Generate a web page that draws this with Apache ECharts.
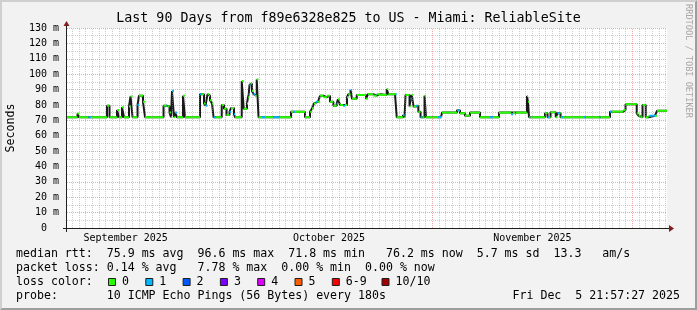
<!DOCTYPE html>
<html>
<head>
<meta charset="utf-8">
<script src="https://cdn.jsdelivr.net/npm/echarts@6.0.0/dist/echarts.min.js"></script>
<style>
html,body{margin:0;padding:0;background:#f2f2f2;overflow:hidden}
#chart{width:697px;height:310px}
</style>
</head>
<body>
<div id="chart"></div>
<script>
// ---------------- data ----------------
const titleText = 'Last 90 Days from f89e6328e825 to US - Miami: ReliableSite';
const yAxisName = 'Seconds';

// days since 2025-09-01 00:00 (step start), median RTT (ms), lost pings of 10
const sampleDay = [6.2,7.78,8.0,9.43,9.8,12.2,12.58,13.7,14.0,14.45,14.75,15.5,15.73,16.03,16.78,17.0,17.6,17.9,
  20.68,21.13,21.28,21.58,21.8,21.95,22.25,22.4,22.7,23.6,23.9,26.15,26.45,26.75,26.98,27.28,27.5,27.65,27.95,28.18,28.55,
  29.41,29.75,30.13,30.58,30.8,31.25,31.4,32.41,32.71,33.2,33.35,33.46,33.58,33.73,33.95,34.18,34.4,34.66,34.93,35.45,35.9,
  37.1,38.15,39.8,40.1,40.4,41.9,42.65,42.95,43.25,43.55,43.85,44.15,44.65,45.2,45.65,46.15,46.66,46.85,47.15,47.6,47.9,
  48.2,48.4,48.73,48.95,49.66,51.05,51.35,52.15,52.66,52.85,53.15,54.16,54.4,55.4,55.66,56.6,56.83,56.98,57.58,57.73,57.91,
  58.18,58.55,58.78,58.9,59.23,59.53,59.83,60.05,61.85,62.3,62.45,64.7,65.15,65.9,66.65,68.15,69.65,70.1,71.0,72.8,73.1,
  73.4,73.55,75.2,75.35,75.5,75.73,77.9,78.28,78.5,78.73,79.51,79.78,80.08,80.23,80.45,80.6,83.75,83.98,86.0,86.23,87.65,
  87.88,89.65,89.98,91.66,91.93,92.23,92.53,93.01,93.43,93.65,94.4,94.7];
const medianMs = [72,74.5,72,72,72,79.5,72,76.7,72,78.5,72,79,85.5,72,80,86,82,72,
  79.5,79.5,79,75,72,89,72,75,72,86,72,87,87,81,79.5,87,86,83,81,72,72,
  80,77.5,73.5,75.6,78,74,72,95.5,77.5,81,85,87,93,94,89,87,86,96.6,72,72,72,
  72,72,75.5,75.5,75.5,72,75.6,77.6,81,82,82,86,85,86,82,79.5,81,83.7,80,79.5,80,
  85,87,89.7,84,86.5,84,87,86,87,87,86.5,90.3,87,87,72,73.5,72,86.5,79,84,86.5,
  79,79.5,79.5,75.5,72,72,86,72,72,72,75,76.5,74.6,73,75,72,72,72,75,74,75,
  74,75,85.8,82,72,72,74.6,72,72,75.3,72,74.6,74.6,72,72,72,72,72,72,72,75.6,
  75.6,76.7,80.5,74.5,73,72,80,72,73,73,73,76.2];
const lossCount = [0,0,0,1,0,0,0,0,0,0,0,0,0,0,1,0,0,0,
  0,1,0,0,0,1,0,1,0,0,0,1,0,0,1,0,0,0,0,1,0,
  0,0,0,1,0,1,0,0,0,0,0,1,1,0,0,1,0,0,0,1,0,
  1,0,0,1,0,0,0,0,0,1,0,0,0,0,0,0,1,0,0,1,0,
  0,0,1,0,0,0,0,0,1,0,0,0,0,1,0,1,0,0,0,1,0,
  0,1,0,0,1,0,0,0,1,0,0,1,0,0,0,0,1,0,0,1,0,
  1,0,0,0,1,0,0,1,0,0,0,1,0,0,1,0,1,0,1,0,1,
  0,0,0,0,0,0,0,0,0,1,0,0];

const rangeStartDay = 6.2;
const rangeEndDay = 96.2;
const yMin = 0, yMax = 130, yStep = 10;
const monthStartDay = [30, 61, 91];
const monthLabelDay = [15, 45.5, 76];
const monthLabel = ['September 2025', 'October 2025', 'November 2025'];

const lossLabel = ['0', '1', '2', '3', '4', '5', '6-9', '10/10'];
const lossColor = ['#26ff00', '#00b8ff', '#0059ff', '#7e00ff', '#dd00ff', '#ff5e00', '#ff0000', '#a10000'];

const statLines = [
  'median rtt:  75.9 ms avg  96.6 ms max  71.8 ms min   76.2 ms now  5.7 ms sd  13.3   am/s',
  'packet loss: 0.14 % avg   7.78 % max  0.00 % min  0.00 % now'
];
const lossColorCaption = 'loss color:';
const probeLine = 'probe:       10 ICMP Echo Pings (56 Bytes) every 180s';
const timestampText = 'Fri Dec  5 21:57:27 2025';
const watermarkText = 'RRDTOOL / TOBI OETIKER';

// ---------------- styling / layout ----------------
const MONO = '"DejaVu Sans Mono", monospace';
const GRID = { left: 67, top: 28, width: 600, height: 200 };
const MINOR = 'rgba(150,150,150,0.45)';
const MAJOR = 'rgba(222,79,79,0.5)';
const AXIS = '#1f1f1f';
const ARROW = '#801f1f';

const stepData = sampleDay.map((d, i) => [d, medianMs[i]]);
stepData.push([rangeEndDay, medianMs[medianMs.length - 1]]);
const segData = sampleDay.map((d, i) => [d, medianMs[i], i < sampleDay.length - 1 ? sampleDay[i + 1] : rangeEndDay, lossCount[i]]);

// vertical grid: one line per day, red at month starts
const vGrid = [];
for (let d = Math.ceil(rangeStartDay); d <= Math.floor(rangeEndDay); d++) {
  const isMonth = monthStartDay.indexOf(d) >= 0;
  vGrid.push({ xAxis: d, lineStyle: { color: isMonth ? MAJOR : MINOR, type: [1, 1], width: 1 } });
}

function txt(x, y, text, size, opts) {
  opts = opts || {};
  return Object.assign({
    type: 'text', x: x, y: y, z: 50, silent: true,
    style: {
      text: text, font: size + 'px ' + MONO, fill: opts.fill || '#000',
      textAlign: opts.align || 'left', align: opts.align || 'left',
      textVerticalAlign: 'middle', verticalAlign: 'middle'
    }
  }, opts.extra || {});
}

const L = GRID.left, T = GRID.top, R = GRID.left + GRID.width, B = GRID.top + GRID.height;
const graphics = [
  // 3D frame
  { type: 'polygon', z: 1, silent: true, shape: { points: [[0, 310], [2, 308], [2, 2], [695, 2], [697, 0], [0, 0]] }, style: { fill: '#cfcfcf' } },
  { type: 'polygon', z: 1, silent: true, shape: { points: [[2, 308], [695, 308], [695, 2], [697, 0], [697, 310], [0, 310]] }, style: { fill: '#9e9e9e' } },
  // axes
  { type: 'line', z: 40, silent: true, shape: { x1: L - 4, y1: B + 0.5, x2: R + 4, y2: B + 0.5 }, style: { stroke: AXIS, lineWidth: 1 } },
  { type: 'line', z: 40, silent: true, shape: { x1: L - 0.5, y1: B + 4, x2: L - 0.5, y2: T - 4 }, style: { stroke: AXIS, lineWidth: 1 } },
  { type: 'polygon', z: 41, silent: true, shape: { points: [[R + 2, B - 3], [R + 2, B + 4], [R + 7, B + 0.5]] }, style: { fill: ARROW } },
  { type: 'polygon', z: 41, silent: true, shape: { points: [[L - 3.5, T - 2], [L + 2.5, T - 2], [L - 0.5, T - 7]] }, style: { fill: ARROW } },
  // title
  txt(348.5, 19, titleText, 13.3, { align: 'center' }),
  // y name
  txt(11, 128, yAxisName, 11.6, { align: 'center', extra: { rotation: Math.PI / 2 } }),
  // watermark
  txt(688, 61, watermarkText, 8.6, { align: 'center', fill: '#a8a8a8', extra: { rotation: -Math.PI / 2 } }),
  // legend lines
  txt(16, 254.3, statLines[0], 11.6),
  txt(16, 268.3, statLines[1], 11.6),
  txt(16, 282.3, lossColorCaption, 11.6),
  txt(16, 296, probeLine, 11.6),
  txt(680, 296, timestampText, 11.6, { align: 'right' })
];
const boxX = [108, 145.3, 182.6, 219.9, 257.2, 294.5, 331.8, 381.5];
lossLabel.forEach((lab, i) => {
  graphics.push({ type: 'rect', z: 50, silent: true, shape: { x: boxX[i] + 0.5, y: 278.5, width: 7, height: 7 }, style: { fill: lossColor[i], stroke: AXIS, lineWidth: 1 } });
  graphics.push(txt(boxX[i] + 14, 282.3, lab, 11.6));
});

const chart = echarts.init(document.getElementById('chart'), null, { renderer: 'canvas' });
chart.setOption({
  animation: false,
  backgroundColor: '#f2f2f2',
  grid: Object.assign({ show: true, backgroundColor: '#ffffff', borderWidth: 0 }, GRID),
  xAxis: {
    type: 'value', min: rangeStartDay, max: rangeEndDay,
    axisLine: { show: false }, axisTick: { show: false }, splitLine: { show: false },
    axisLabel: {
      customValues: monthLabelDay, margin: 5, color: '#000', fontFamily: MONO, fontSize: 10,
      formatter: function (v) { const i = monthLabelDay.indexOf(v); return i >= 0 ? monthLabel[i] : ''; }
    }
  },
  yAxis: {
    type: 'value', min: yMin, max: yMax, interval: yStep,
    axisLine: { show: false }, axisTick: { show: false },
    axisLabel: { margin: 8, color: '#000', fontFamily: MONO, fontSize: 10, formatter: v => v === 0 ? '0  ' : v + ' m' },
    splitLine: { show: true, lineStyle: { color: MAJOR, type: [1, 1], width: 1 } },
    minorTick: { show: false, splitNumber: 2 },
    minorSplitLine: { show: true, lineStyle: { color: MINOR, type: [1, 1], width: 1 } }
  },
  graphic: graphics,
  series: [
    {
      type: 'line', z: 1, data: [[rangeStartDay, -10]], showSymbol: false, silent: true,
      lineStyle: { opacity: 0 },
      markLine: { silent: true, symbol: ['none', 'none'], label: { show: false }, data: vGrid, animation: false }
    },
    {
      type: 'line', z: 3, step: 'end', data: stepData, showSymbol: false, silent: true,
      lineStyle: { color: '#1a1a1a', width: 2 }
    },
    {
      type: 'custom', z: 4, silent: true, data: segData,
      encode: { x: [0, 2], y: 1 },
      renderItem: function (params, api) {
        const p0 = api.coord([api.value(0), api.value(1)]);
        const p1 = api.coord([api.value(2), api.value(1)]);
        return { type: 'line', shape: { x1: p0[0], y1: p0[1], x2: p1[0], y2: p1[1] }, style: { stroke: lossColor[api.value(3)], lineWidth: 2 } };
      }
    }
  ]
});
</script>
</body>
</html>
